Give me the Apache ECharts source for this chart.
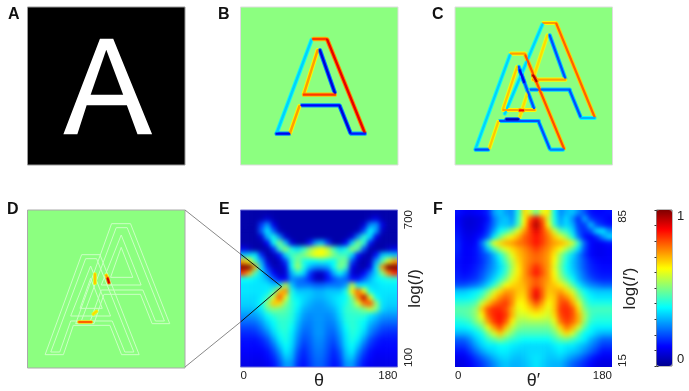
<!DOCTYPE html>
<html><head><meta charset="utf-8">
<style>
html,body{margin:0;padding:0;background:#fff;overflow:hidden}
#heat,#main{position:absolute;left:0;top:0;width:689px;height:391px}
#heat{filter:blur(2.4px);clip-path:path('M240.5 210H397.5V367H240.5Z M455 210H612V367H455Z')}
#main{filter:blur(0.5px)}
</style>
<script src="https://cdn.jsdelivr.net/npm/echarts@6/dist/echarts.min.js"></script>
</head><body><div id="heat"></div><div id="main"></div>
<script>
const panelLetters=['A','B','C','D','E','F'];
const thetaTicks=['0','180'];
const logITicks=['100','700'];
const logIPrimeTicks=['15','85'];
const colorbarTicks=['0','1'];
// Letter outline, in image units of a 474-wide panel
const letterOuter=[[218,95],[258,95],[375,382],[331,382],[299,295],[178,295],[150,382],[108,382]];
const letterHole=[[237,128],[288,263],[190,263]];
// Edge responses [x1,y1,x2,y2,value%]
const segB=[[214,98,109,378,33],[219,96,257,96,82],[261,98,374,378,90],[232,130,191,260,72],[239,130,284,258,8],
[191,263,284,263,82],[184,295,297,295,12],[177,298,149,378,72],[299,298,331,378,8],[109,380,146,380,10],[334,380,374,380,15]];
const segC=[[265,48,302,48,72],[263,52,150,320,33],[305,50,420,330,78],[278,85,235,215,66],[285,85,332,215,20],
[235,218,332,218,72],[228,248,345,248,22],[220,252,195,330,66],[345,250,378,330,20],[380,333,420,333,30],
[168,140,210,140,72],[165,145,62,425,33],[212,145,328,425,80],[187,180,145,305,68],[192,180,238,305,20],
[145,309,240,309,72],[135,342,252,342,20],[130,345,103,425,68],[252,345,285,425,20],[62,428,100,428,20],[288,428,325,428,25],
[235,205,245,222,96],[195,310,205,310,88],[155,337,190,337,4],[195,190,208,225,10]];
const segD=[[203,192,203,220,68],[237,196,241,205,72],[241,205,245,218,92],[198,312,208,304,66],[155,336,192,336,78]];
// Contours in panel D
const frontOuter=[[163,134],[218,134],[336,434],[283,434],[248,346],[138,346],[108,434],[53,434]];
const frontInner=[[175,146],[208,146],[320,426],[293,426],[255,333],[130,333],[97,426],[70,426]];
const frontHoleOut=[[190,168],[250,318],[130,318]];
const frontHoleIn=[[190,205],[225,295],[158,295]];
const backOuter=[[253,41],[310,41],[428,341],[375,341],[340,253],[230,253],[200,341],[145,341]];
const backInner=[[267,53],[300,53],[412,333],[385,333],[347,240],[222,240],[189,333],[162,333]];
const backHoleOut=[[282,75],[342,225],[222,225]];
const backHoleIn=[[282,112],[317,202],[250,202]];
// Panel E, percent of the colour scale
const rowsE=[
[3,3,3,3,3,3,3,3,3,3,3,3,3,3,3,3,3,3,3,3,3,3,3,3,3,3],
[3,3,3,4,8,4,3,3,3,3,3,3,3,3,3,3,3,3,3,3,3,6,10,4,3,3],
[3,3,3,18,28,10,3,3,3,3,3,3,3,3,3,3,3,3,3,3,8,26,28,10,3,3],
[3,3,3,22,36,22,5,3,3,3,3,3,3,3,3,3,3,3,3,5,20,38,28,6,3,3],
[3,3,3,8,30,40,26,7,3,3,3,3,3,3,3,3,3,3,8,26,42,34,10,3,3,3],
[3,3,3,3,12,38,50,32,9,3,3,14,28,32,18,3,3,12,34,50,42,14,3,3,3,3],
[10,6,3,3,3,16,42,52,40,34,42,52,58,62,56,44,34,40,52,46,20,3,3,3,6,10],
[32,34,36,16,3,5,14,34,44,46,50,56,62,62,58,50,44,44,34,14,5,3,14,32,34,32],
[70,62,42,28,8,3,6,18,40,50,40,38,38,40,38,38,48,48,20,6,3,6,28,44,60,72],
[100,100,70,34,16,5,5,10,38,54,40,30,26,26,28,38,50,44,10,5,3,10,36,72,100,100],
[82,70,44,34,24,12,5,8,30,40,34,18,7,6,16,30,38,28,8,5,12,24,34,50,74,84],
[38,38,36,34,30,22,12,12,26,24,22,16,6,5,14,20,24,22,14,14,22,30,36,38,40,40],
[35,35,35,35,35,32,36,56,32,24,24,24,22,22,24,24,24,28,56,36,36,34,34,36,36,36],
[35,35,35,35,36,44,68,74,40,32,32,32,30,30,32,32,32,40,64,78,62,38,35,35,35,35],
[34,34,34,36,42,58,80,60,40,36,34,32,30,30,32,34,36,38,50,74,94,60,38,35,34,34],
[33,33,34,38,52,68,66,50,42,38,33,30,28,28,30,33,36,40,46,58,76,80,52,35,33,33],
[31,31,32,36,46,50,48,46,42,36,30,28,27,27,28,30,35,42,44,46,50,56,50,34,31,31],
[27,27,28,32,38,42,44,44,41,34,28,26,27,27,26,28,34,41,42,42,42,36,32,28,27,27],
[23,23,24,28,34,38,42,42,40,32,26,25,27,27,25,26,32,40,42,40,38,32,28,24,23,23],
[19,19,20,24,30,36,41,42,38,30,24,24,27,27,24,24,30,38,42,40,36,28,24,20,19,19],
[16,16,17,20,25,33,39,41,36,28,22,23,27,27,23,22,28,36,41,39,33,25,20,17,16,16],
[14,14,14,16,20,28,36,40,35,26,20,22,26,26,22,20,26,35,40,36,28,20,16,14,14,14],
[13,13,13,14,17,23,32,38,34,24,18,21,25,25,21,18,24,34,38,32,23,17,14,13,13,13],
[12,12,12,12,14,19,27,36,32,21,16,20,24,24,20,16,21,32,36,27,19,14,12,12,12,12],
[11,11,11,11,13,16,23,32,30,19,15,19,23,23,19,15,19,30,32,23,16,13,11,11,11,11],
[10,10,10,10,11,14,20,28,27,17,14,18,22,22,18,14,17,27,28,20,14,11,10,10,10,10]];
// Panel F, percent of the colour scale
const rowsF=[
[14,12,11,12,13,16,28,32,28,26,40,66,58,48,60,64,38,26,30,32,26,20,14,13,13,14],
[12,9,8,9,10,14,24,30,32,27,42,62,80,90,78,58,40,28,34,26,16,30,18,15,14,12],
[13,9,8,9,11,16,24,32,32,30,44,64,84,96,82,62,42,30,34,30,18,18,32,20,16,14],
[14,10,9,10,12,18,28,38,42,50,60,72,82,90,82,72,58,46,42,34,20,16,20,34,36,26],
[15,11,10,12,15,22,36,48,58,64,70,78,82,86,82,76,68,60,52,40,24,14,12,16,26,34],
[16,12,11,13,24,42,60,66,70,72,76,78,82,86,82,76,72,70,66,58,42,22,13,11,12,14],
[16,12,12,14,20,32,44,54,60,66,70,74,78,82,78,74,68,62,54,46,34,20,13,11,11,12],
[15,12,12,14,18,22,30,40,50,60,68,72,76,78,76,72,64,52,42,34,26,18,13,11,11,12],
[14,12,12,14,17,22,28,36,46,56,66,72,76,78,76,72,62,50,40,32,26,20,15,13,12,12],
[14,12,13,15,18,23,28,34,42,54,64,72,78,84,78,72,60,48,38,32,26,20,16,14,13,13],
[15,13,14,16,20,25,30,36,44,56,64,72,80,86,80,72,62,50,40,34,28,22,17,15,14,14],
[16,15,16,18,22,28,34,42,50,60,66,72,76,80,76,72,64,54,46,38,30,24,20,17,16,16],
[20,20,22,24,28,34,42,52,62,66,68,70,76,80,76,70,68,64,56,46,36,30,26,24,22,22],
[32,32,34,36,40,48,58,66,72,72,68,68,78,88,78,68,70,72,66,58,46,38,34,32,32,32],
[36,36,37,40,46,56,66,74,78,74,66,66,78,90,78,66,68,78,74,66,52,42,37,35,35,35],
[42,42,43,46,58,68,76,80,82,74,62,64,72,80,72,62,68,80,82,72,60,46,40,40,40,40],
[46,46,47,52,68,80,84,84,80,70,60,62,66,70,66,60,68,82,84,80,66,50,44,44,44,44],
[44,45,47,52,62,78,84,86,82,70,58,58,60,62,60,58,66,80,84,80,70,54,44,42,42,42],
[40,41,43,50,56,72,82,86,78,64,54,53,54,54,54,53,60,76,82,78,70,52,42,40,40,40],
[36,36,38,42,48,60,72,80,68,56,50,48,48,48,48,48,54,66,76,70,58,46,38,36,36,36],
[30,30,32,36,40,50,58,68,56,50,44,44,44,44,44,44,48,56,66,58,46,38,36,32,30,30],
[22,22,26,32,36,42,46,50,46,42,40,38,38,38,38,38,42,46,48,44,40,36,30,26,22,22],
[18,18,22,28,33,36,36,38,38,36,35,34,34,34,34,34,36,38,36,36,33,30,26,22,18,18],
[14,14,18,23,28,32,34,36,36,34,33,33,34,34,34,33,34,36,34,32,30,26,22,18,14,14],
[11,11,14,18,22,26,30,33,34,32,31,32,34,35,34,32,32,33,30,27,24,20,16,13,11,11],
[9,10,12,15,18,22,26,30,32,30,30,31,33,35,33,31,30,30,26,22,19,16,13,10,9,9]];

const jet=['#00008f','#0000ff','#0080ff','#00ffff','#80ff80','#ffff00','#ff8000','#ff0000','#800000'];
const FONT='"Liberation Sans",Arial,sans-serif';
const GREEN='#8cff80';

/* ---------- blurred heat layer ---------- */
const PAD=2, N=26, cell=157/N, span=157+2*PAD*cell;
function heatData(rows){
  const out=[];
  for(let r=-PAD;r<N+PAD;r++)for(let c=-PAD;c<N+PAD;c++){
    const rr=Math.min(N-1,Math.max(0,r)),cc=Math.min(N-1,Math.max(0,c));
    out.push([c+PAD,r+PAD,rows[rr][cc]]);
  }
  return out;
}
const cats=Array.from({length:N+2*PAD},(_,i)=>i);
const heatAxis=(g,inv)=>({type:'category',gridIndex:g,data:cats,show:false,inverse:inv});
const heat=echarts.init(document.getElementById('heat'),null,{renderer:'canvas'});
heat.setOption({animation:false,
 grid:[{left:240.5-PAD*cell,top:210-PAD*cell,width:span,height:span,outerBoundsMode:'none'},{left:455-PAD*cell,top:210-PAD*cell,width:span,height:span,outerBoundsMode:'none'}],
 xAxis:[heatAxis(0,false),heatAxis(1,false)],yAxis:[heatAxis(0,true),heatAxis(1,true)],
 visualMap:{show:false,min:0,max:100,dimension:2,inRange:{color:jet}},
 series:[{type:'heatmap',xAxisIndex:0,yAxisIndex:0,data:heatData(rowsE),progressive:0},
         {type:'heatmap',xAxisIndex:1,yAxisIndex:1,data:heatData(rowsF),progressive:0}]
});

/* ---------- main layer ---------- */
const chart=echarts.init(document.getElementById('main'),null,{renderer:'canvas'});
const panels=[[27.5,7],[240.5,7],[455,7],[27.5,210]];
const borders=['#999','#ddd','#ddd','#aaa'];
const backs=['#000',GREEN,GREEN,GREEN];
const grids=panels.map((p,i)=>({left:p[0],top:p[1],width:157.5,height:158,show:true,backgroundColor:backs[i],borderColor:borders[i],borderWidth:1,outerBoundsMode:'none'}));
grids.push({left:240.5,top:210,width:157,height:157,show:true,backgroundColor:'transparent',borderColor:'#6a6ad8',borderWidth:1,outerBoundsMode:'none'});
grids.push({left:455,top:210,width:157,height:157,show:false,outerBoundsMode:'none'});
grids.push({left:656.5,top:210,width:15.5,height:156,show:true,backgroundColor:'transparent',borderColor:'#777',borderWidth:1,outerBoundsMode:'none'});

const imgX=g=>({type:'value',gridIndex:g,min:0,max:474,show:false});
const imgY=g=>({type:'value',gridIndex:g,min:0,max:474,inverse:true,show:false});
const xAxes=[0,1,2,3].map(imgX), yAxes=[0,1,2,3].map(imgY);
const lab={fontFamily:FONT,fontSize:11.5,color:'#222'};
function thetaAxis(g,name){return {type:'value',gridIndex:g,position:'bottom',min:0,max:180,interval:180,name:name,nameLocation:'middle',nameGap:14,nameMoveOverlap:false,
  nameTextStyle:{fontFamily:FONT,fontSize:18,color:'#222',verticalAlign:'middle'},axisLine:{show:false,onZero:false},axisTick:{show:false},splitLine:{show:false},
  axisLabel:Object.assign({},lab,{margin:3,alignMinLabel:'left',alignMaxLabel:'right',hideOverlap:false,showMinLabel:true,showMaxLabel:true})};}
function logAxis(g,ticks,name){return {type:'value',gridIndex:g,position:'right',min:+ticks[0],max:+ticks[1],name:name,nameLocation:'middle',nameGap:18,nameRotate:90,nameMoveOverlap:false,
  nameTextStyle:{fontFamily:FONT,fontSize:17,color:'#222',verticalAlign:'middle',rich:{i:{fontFamily:FONT,fontSize:17,fontStyle:'italic',color:'#222'}}},
  axisLine:{show:false,onZero:false},axisTick:{show:false},splitLine:{show:false},
  axisLabel:Object.assign({},lab,{customValues:ticks.map(Number),rotate:90,margin:5,alignMinLabel:'left',alignMaxLabel:'right',showMinLabel:true,showMaxLabel:true})};}
xAxes.push(thetaAxis(4,'θ'),thetaAxis(5,'θ′'),{type:'value',gridIndex:6,min:0,max:1,show:false});
yAxes.push(logAxis(4,logITicks,'log({i|I})'),logAxis(5,logIPrimeTicks,'log({i|I′})'));
const tickStyle={show:true,inside:true,length:2,lineStyle:{color:'#333',width:1}};
yAxes.push({type:'value',gridIndex:6,position:'right',min:0,max:1,interval:0.1,axisLine:{show:false},axisTick:tickStyle,splitLine:{show:false},
  axisLabel:Object.assign({},lab,{fontSize:13,margin:5,customValues:colorbarTicks.map(Number),verticalAlignMinLabel:'bottom',verticalAlignMaxLabel:'top'})});
yAxes.push({type:'value',gridIndex:6,position:'left',min:0,max:1,interval:0.1,axisLine:{show:false},axisTick:tickStyle,splitLine:{show:false},axisLabel:{show:false}});

function polySeries(g,pts,fill,stroke,z){
  return {type:'custom',xAxisIndex:g,yAxisIndex:g,coordinateSystem:'cartesian2d',z:z||2,silent:true,clip:true,data:[[0,0]],
    encode:{x:0,y:1},
    renderItem:(p,api)=>({type:'polygon',shape:{points:pts.map(q=>api.coord(q))},
      style:{fill:fill,stroke:stroke||null,lineWidth:stroke?1:0}})};
}
function segSeries(g,segs,width,z){
  return {type:'custom',xAxisIndex:g,yAxisIndex:g,coordinateSystem:'cartesian2d',z:z,silent:true,clip:true,data:segs,
    dimensions:['x1','y1','x2','y2','value'],encode:{x:[0,2],y:[1,3]},
    renderItem:(p,api)=>{
      const a=api.coord([api.value(0),api.value(1)]),b=api.coord([api.value(2),api.value(3)]);
      return {type:'line',shape:{x1:a[0],y1:a[1],x2:b[0],y2:b[1]},style:{stroke:api.visual('color'),lineWidth:width,lineCap:'round',fill:null}};
    }};
}
const halo=segs=>segs.map(s=>[s[0],s[1],s[2],s[3],50+(s[4]-50)*0.6]);
const contour='#ccffc4';
const series=[];
series.push(polySeries(0,letterOuter,'#fff'),polySeries(0,letterHole,'#000',null,3));
[backOuter,backInner,backHoleOut,backHoleIn,frontOuter,frontInner,frontHoleOut,frontHoleIn].forEach(c=>series.push(polySeries(3,c,'transparent',contour)));
const segStart=series.length;
series.push(segSeries(1,halo(segB),4.4,2),segSeries(1,segB,2.4,3));
series.push(segSeries(2,halo(segC),4.2,2),segSeries(2,segC,2.2,3));
series.push(segSeries(3,halo(segD),3.6,3),segSeries(3,segD,2,4));
const segEnd=series.length;

const letterPos=[[8,19],[218,19],[432,19],[7,214],[219,214],[433,214]];
const graphic=panelLetters.map((t,i)=>({type:'text',left:letterPos[i][0],top:letterPos[i][1]-12,style:{text:t,font:'bold 16px '+FONT,fill:'#111'}}));
const apex=[281.7,286.7];
const conn=(a,b,c)=>({type:'line',shape:{x1:a[0],y1:a[1],x2:b[0],y2:b[1]},style:{stroke:c,lineWidth:1},z:50});
graphic.push(conn([185,210],[240.5,254],'#888'),conn([240.5,254],apex,'#111'),conn(apex,[240.5,322],'#111'),conn([240.5,322],[185,367],'#888'));

chart.setOption({animation:false,backgroundColor:'transparent',grid:grids,xAxis:xAxes,yAxis:yAxes,
 visualMap:{type:'continuous',show:true,min:0,max:100,dimension:4,seriesIndex:Array.from({length:segEnd-segStart},(_,i)=>i+segStart),
   left:656.5,top:210,itemWidth:15.5,itemHeight:156,padding:0,calculable:false,realtime:false,text:null,showLabel:false,hoverLink:false,inRange:{color:jet},textStyle:{color:'transparent',fontSize:1},z:1},
 series:series,graphic:graphic
});
</script></body></html>
